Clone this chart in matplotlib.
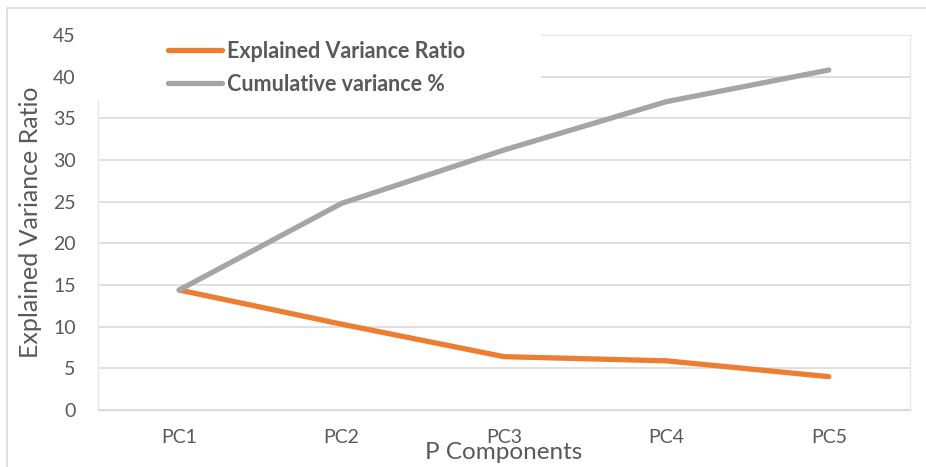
import matplotlib
matplotlib.use("Agg")
import matplotlib.pyplot as plt
from matplotlib.patches import Rectangle

# PCA variance by component (values in percent)
components = ["PC1", "PC2", "PC3", "PC4", "PC5"]
explained_ratio = [14.4, 10.3, 6.4, 5.9, 4.0]
cumulative_pct = [14.4, 24.8, 31.2, 37.0, 40.8]
y_ticks = [0, 5, 10, 15, 20, 25, 30, 35, 40, 45]

ORANGE = "#ED7D31"
GREY = "#A5A5A5"
TEXT = "#595959"
GRID = "#D9D9D9"

plt.rcParams["font.family"] = ["Lato", "DejaVu Sans"]

W, H = 926, 467
fig = plt.figure(figsize=(W / 100, H / 100), dpi=100)
ax = fig.add_axes([98 / W, 1 - 410 / H, 812 / W, 375 / H])

x = range(len(components))
ax.plot(x, explained_ratio, color=ORANGE, lw=3.8, solid_capstyle="round",
        solid_joinstyle="round", label="Explained Variance Ratio", zorder=4)
ax.plot(x, cumulative_pct, color=GREY, lw=3.8, solid_capstyle="round",
        solid_joinstyle="round", label="Cumulative variance %", zorder=4)

ax.set_xlim(-0.5, len(components) - 0.5)
ax.set_ylim(0, 45)
ax.set_xticks(list(x))
ax.set_xticklabels(components)
ax.set_yticks(y_ticks)
ax.tick_params(axis="both", length=0, colors=TEXT, labelsize=14)
ax.tick_params(axis="x", pad=14)
ax.tick_params(axis="y", pad=16)

ax.grid(axis="y", color=GRID, lw=1.2)
ax.set_axisbelow(True)
for s in ax.spines.values():
    s.set_color("#E6E6E6")
    s.set_linewidth(1)
ax.spines["bottom"].set_color(GRID)

ax.set_ylabel("Explained Variance Ratio", fontsize=18, color=TEXT, labelpad=8)
ax.set_xlabel("P Components", fontsize=17.5, color=TEXT, labelpad=-3)

# white backing behind the legend, covering the top-left of the plot area
ax.add_patch(Rectangle((-0.01, 0.827), 0.555, 0.2, transform=ax.transAxes,
                       facecolor="white", edgecolor="none", clip_on=False,
                       zorder=3))

leg = ax.legend(loc="upper left", bbox_to_anchor=(168 / W, 1 - 41 / H),
                bbox_transform=fig.transFigure, frameon=False,
                handlelength=2.5, handletextpad=0.23, labelspacing=0.55,
                borderaxespad=0, borderpad=0,
                prop={"weight": "bold", "size": 15.5})
for t in leg.get_texts():
    t.set_color(TEXT)
leg.set_zorder(6)

# light outer chart border
fig.patches.append(Rectangle((7 / W, -0.05), 1.0, 1 - 8 / H + 0.05,
                             transform=fig.transFigure, facecolor="none",
                             edgecolor=GRID, lw=1.2, zorder=0))

fig.savefig("out.png", dpi=100)
